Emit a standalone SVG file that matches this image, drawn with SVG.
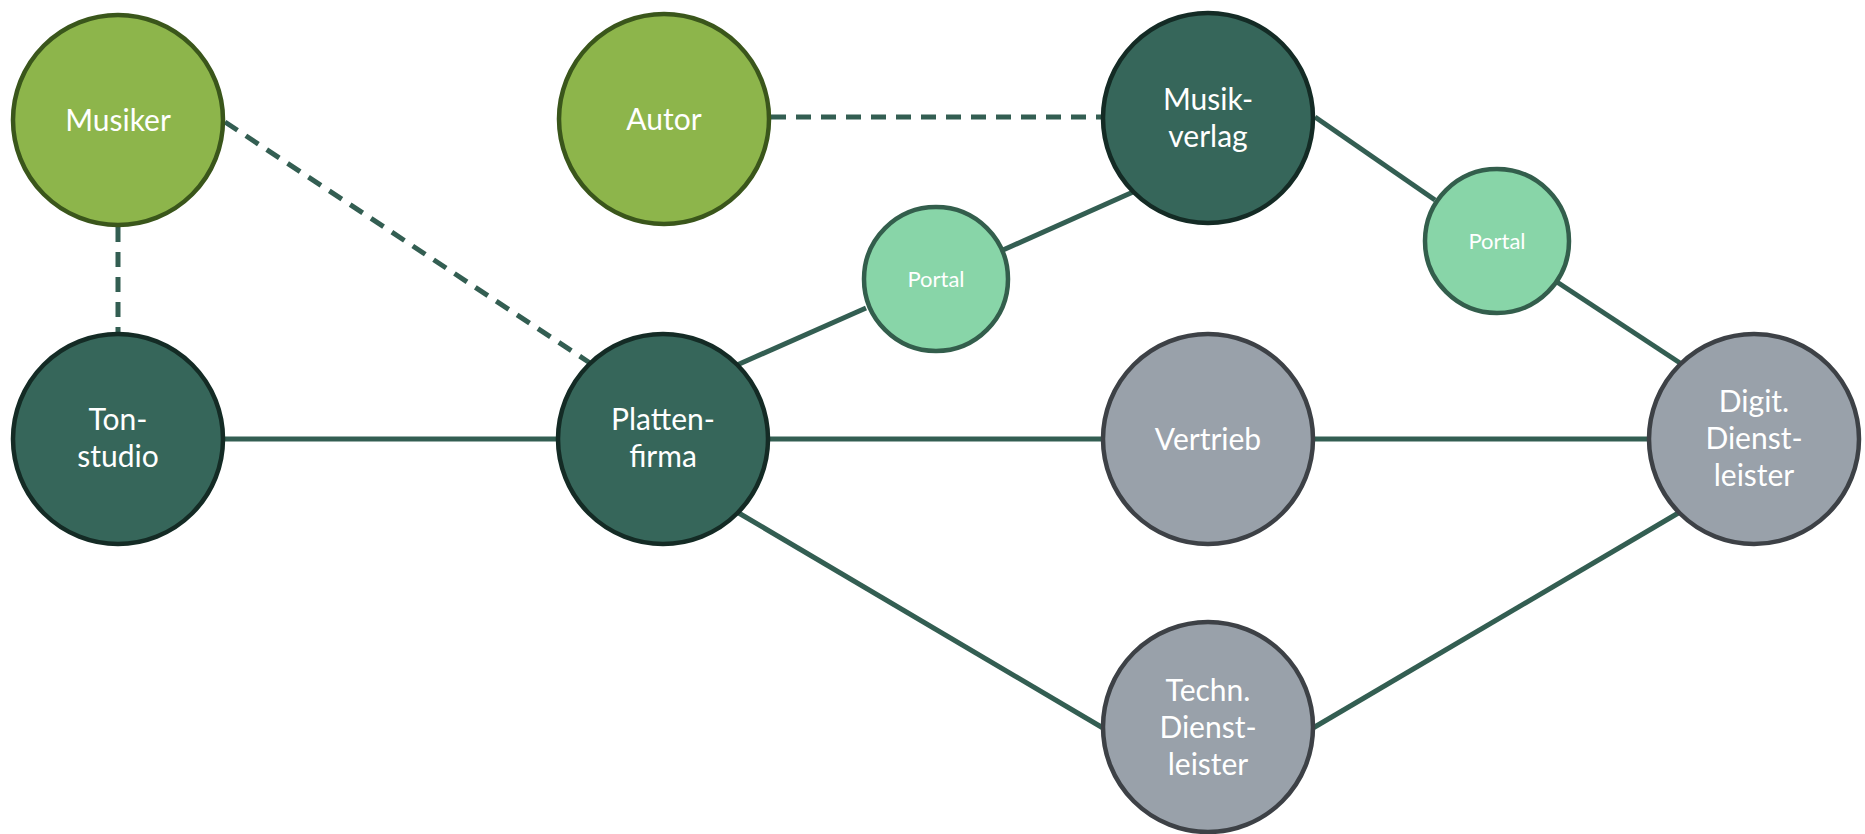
<svg xmlns="http://www.w3.org/2000/svg" width="1865" height="834" viewBox="0 0 1865 834">
  <style>
    .link { stroke: #335e52; stroke-width: 5; fill: none; }
    .dash { stroke-dasharray: 15 10; }
    .lime circle { fill: #8db54b; stroke: #3a561b; stroke-width: 4.5; }
    .dark circle { fill: #36665a; stroke: #142b25; stroke-width: 4.5; }
    .mint circle { fill: #88d5a8; stroke: #335e4c; stroke-width: 4.5; }
    .grey circle { fill: #99a1aa; stroke: #3d4146; stroke-width: 4.5; }
    text { font-family: Lato, "Open Sans", "Liberation Sans", sans-serif; fill: #ffffff; text-anchor: middle; font-size: 30px; }
    .mint text { font-size: 22px; }
  </style>

  <g id="connectors">
    <line class="link dash" x1="118" y1="227" x2="118" y2="332"/>
    <line class="link dash" x1="225" y1="122" x2="590" y2="363"/>
    <line class="link dash" x1="771" y1="117" x2="1101" y2="117"/>
    <line class="link" x1="225" y1="439" x2="556" y2="439"/>
    <line class="link" x1="737" y1="365" x2="866" y2="308"/>
    <line class="link" x1="1003" y1="250" x2="1133" y2="192"/>
    <line class="link" x1="1315" y1="117" x2="1435" y2="200"/>
    <line class="link" x1="1557" y1="282" x2="1680" y2="363"/>
    <line class="link" x1="770" y1="439" x2="1101" y2="439"/>
    <line class="link" x1="1315" y1="439" x2="1647" y2="439"/>
    <line class="link" x1="737" y1="512" x2="1103" y2="728"/>
    <line class="link" x1="1313" y1="728" x2="1680" y2="512"/>
  </g>

  <g id="musiker" class="lime">
    <circle cx="118" cy="120" r="105"/>
    <text x="118" y="131">Musiker</text>
  </g>
  <g id="autor" class="lime">
    <circle cx="664" cy="119" r="105"/>
    <text x="664" y="130">Autor</text>
  </g>
  <g id="musikverlag" class="dark">
    <circle cx="1208" cy="118" r="105"/>
    <text x="1208" y="110">Musik-</text>
    <text x="1208" y="147">verlag</text>
  </g>
  <g id="tonstudio" class="dark">
    <circle cx="118" cy="439" r="105"/>
    <text x="118" y="430">Ton-</text>
    <text x="118" y="467">studio</text>
  </g>
  <g id="plattenfirma" class="dark">
    <circle cx="663" cy="439" r="105"/>
    <text x="663" y="430">Platten-</text>
    <text x="663" y="467">firma</text>
  </g>
  <g id="portal-1" class="mint">
    <circle cx="936" cy="279" r="72"/>
    <text x="936" y="287">Portal</text>
  </g>
  <g id="portal-2" class="mint">
    <circle cx="1497" cy="241" r="72"/>
    <text x="1497" y="249">Portal</text>
  </g>
  <g id="vertrieb" class="grey">
    <circle cx="1208" cy="439" r="105"/>
    <text x="1208" y="450">Vertrieb</text>
  </g>
  <g id="digit-dienstleister" class="grey">
    <circle cx="1754" cy="439" r="105"/>
    <text x="1754" y="412">Digit.</text>
    <text x="1754" y="449">Dienst-</text>
    <text x="1754" y="486">leister</text>
  </g>
  <g id="techn-dienstleister" class="grey">
    <circle cx="1208" cy="727" r="105"/>
    <text x="1208" y="701">Techn.</text>
    <text x="1208" y="738">Dienst-</text>
    <text x="1208" y="775">leister</text>
  </g>
</svg>
